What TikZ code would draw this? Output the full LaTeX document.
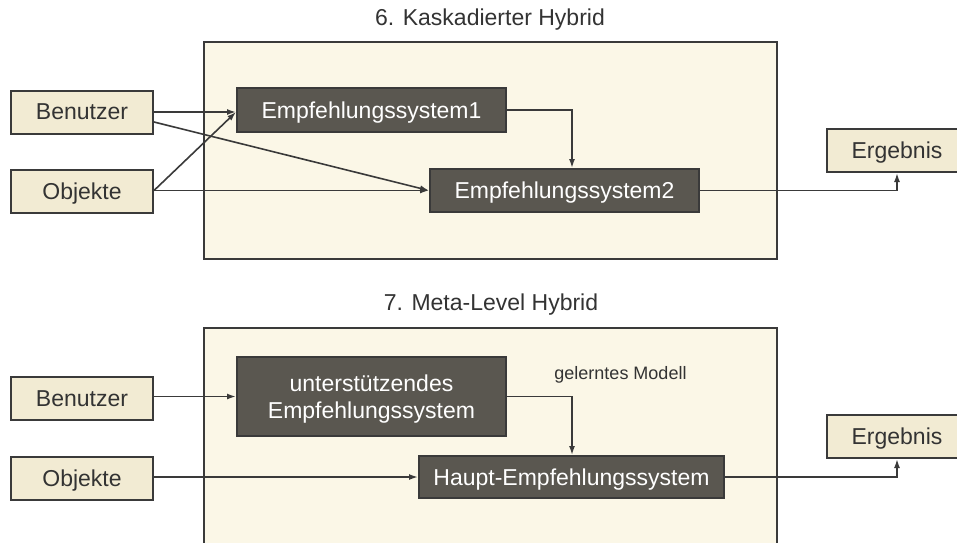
\documentclass[tikz,border=0pt]{standalone}
\usepackage{fontspec}
\setmainfont{Liberation Sans}
\usetikzlibrary{arrows.meta}
\definecolor{panelfill}{HTML}{FBF7E7}
\definecolor{lightfill}{HTML}{F2EBD3}
\definecolor{darkfill}{HTML}{5A5750}
\definecolor{edge}{HTML}{3A3A3A}
\definecolor{txt}{HTML}{333333}
\tikzset{
  panel/.style={draw=edge, line width=2pt, fill=panelfill},
  lightbox/.style={draw=edge, line width=2pt, fill=lightfill, text=txt, inner sep=0pt,
    font=\fontsize{23}{27}\selectfont, text depth=0pt, minimum width=142pt, minimum height=43pt},
  darkbox/.style={draw=edge, line width=2pt, fill=darkfill, text=white, inner sep=0pt,
    font=\fontsize{23}{27}\selectfont, text depth=0pt, align=center},
  titlelbl/.style={text=txt, font=\fontsize{23}{27}\selectfont, inner sep=0pt},
  smalllbl/.style={text=txt, font=\fontsize{18}{21}\selectfont, inner sep=0pt},
  arr/.style={draw=edge, line width=1.6pt, -{Latex[length=9pt,width=6pt]}},
}
\begin{document}
\begin{tikzpicture}[x=1pt, y=-1pt]
\clip (0,0) rectangle (957,542);
\fill[white] (0,0) rectangle (957,542);

% ---------- 6. Kaskadierter Hybrid ----------
\node[titlelbl] (t1) at (490,20) {6. Kaskadierter Hybrid};
\draw[panel] (204,42) rectangle (777,259);
\node[lightbox] (b1) at (82,112) {Benutzer};
\node[lightbox] (o1) at (82,191.5) {Objekte};
\node[darkbox, minimum width=269pt, minimum height=44pt] (es1) at (371.5,110) {Empfehlungssystem1};
\node[darkbox, minimum width=269pt, minimum height=43pt] (es2) at (564.5,190.5) {Empfehlungssystem2};
\node[lightbox, minimum width=140pt] (e1) at (897,150.5) {Ergebnis};

\draw[arr] (b1.east) -- (b1.east -| es1.west);
\draw[arr] ([yshift=-10pt]b1.east) -- (es2.west);
\draw[arr] ([yshift=1pt]o1.east) -- ([yshift=-2pt]es1.west);
\draw[arr] (es2.west -| o1.east) -- (es2.west);
\draw[arr] (es1.east) -| ([xshift=7.5pt]es2.north);
\draw[arr] (es2.east) -| (e1.south);

% ---------- 7. Meta-Level Hybrid ----------
\node[titlelbl] (t2) at (491,305) {7. Meta-Level Hybrid};
\draw[panel] (204,328) rectangle (777,600);
\node[lightbox] (b2) at (82,398.5) {Benutzer};
\node[lightbox] (o2) at (82,478.5) {Objekte};
\node[darkbox, minimum width=269pt, minimum height=79pt] (us) at (371.5,396.5) {unterstützendes\\Empfehlungssystem};
\node[darkbox, minimum width=305pt, minimum height=42pt] (hs) at (571.5,477) {Haupt-Empfehlungssystem};
\node[lightbox, minimum width=140pt] (e2) at (897,436.5) {Ergebnis};
\node[smalllbl] (gm) at (620.5,375) {gelerntes Modell};

\draw[arr] (us.west -| b2.east) -- (us.west);
\draw[arr] (hs.west -| o2.east) -- (hs.west);
\draw[arr] (us.east) -| ([xshift=0.5pt]hs.north);
\draw[arr] (hs.east) -| (e2.south);
\end{tikzpicture}
\end{document}
